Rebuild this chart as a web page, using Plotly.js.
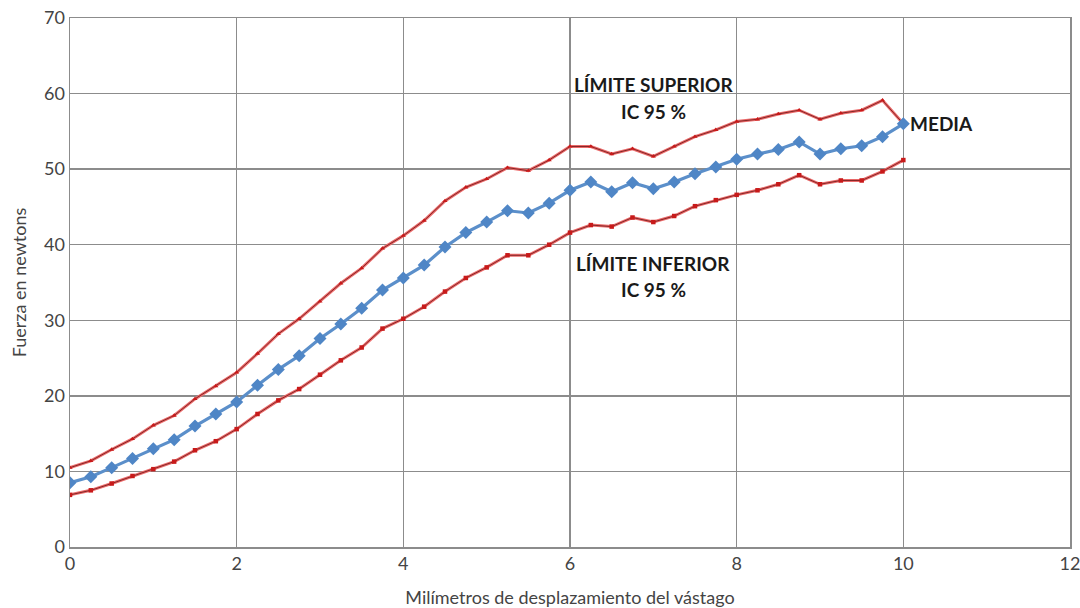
<!DOCTYPE html>
<html>
<head>
<meta charset="utf-8">
<script src="https://cdn.plot.ly/plotly-3.0.1.min.js"></script>
<style>html,body{margin:0;padding:0;background:#fff;}#chart{width:1080px;height:608px;}</style>
</head>
<body>
<div id="chart"></div>
<script>
const xValues = [0,0.25,0.5,0.75,1,1.25,1.5,1.75,2,2.25,2.5,2.75,3,3.25,3.5,3.75,4,4.25,4.5,4.75,5,5.25,5.5,5.75,6,6.25,6.5,6.75,7,7.25,7.5,7.75,8,8.25,8.5,8.75,9,9.25,9.5,9.75,10];
const mediaValues = [8.5,9.3,10.5,11.7,13.0,14.2,16.0,17.6,19.2,21.4,23.5,25.3,27.6,29.5,31.6,34.0,35.6,37.3,39.7,41.6,43.0,44.5,44.2,45.5,47.2,48.3,47.0,48.2,47.4,48.3,49.4,50.3,51.3,52.0,52.6,53.6,52.0,52.7,53.1,54.3,56.0];
const superiorValues = [10.5,11.4,12.9,14.3,16.1,17.4,19.6,21.3,23.1,25.6,28.2,30.2,32.5,34.9,36.9,39.5,41.2,43.2,45.8,47.6,48.7,50.2,49.8,51.2,53.0,53.0,52.0,52.7,51.7,53.0,54.3,55.2,56.3,56.6,57.3,57.8,56.6,57.4,57.8,59.1,56.0];
const inferiorValues = [6.9,7.5,8.4,9.4,10.3,11.3,12.8,14.0,15.6,17.6,19.4,20.9,22.8,24.7,26.4,28.9,30.2,31.8,33.8,35.6,37.0,38.6,38.6,40.0,41.6,42.6,42.4,43.6,43.0,43.8,45.1,45.9,46.6,47.2,48.0,49.2,48.0,48.5,48.5,49.7,51.2];
const xTicks = [0,2,4,6,8,10,12];
const yTicks = [0,10,20,30,40,50,60,70];
const labels = {
  superior: ['LÍMITE SUPERIOR','IC 95 %'],
  inferior: ['LÍMITE INFERIOR','IC 95 %'],
  media: 'MEDIA',
  xTitle: 'Milímetros de desplazamiento del vástago',
  yTitle: 'Fuerza en newtons'
};

function band(y, symbol) {
  return [
    {x: xValues, y: y, mode: 'lines', line: {color: '#ec6a6a', width: 3}, hoverinfo: 'skip', showlegend: false},
    {x: xValues, y: y, mode: 'lines+markers', line: {color: '#6a1414', width: 0.8},
     marker: {symbol: symbol, size: 4.5, color: '#c81a1a'}, showlegend: false}
  ];
}

const traces = [
  ...band(superiorValues, 'triangle-up'),
  ...band(inferiorValues, 'square'),
  {x: xValues, y: mediaValues, mode: 'lines+markers', line: {color: '#5b8fca', width: 3.2},
   marker: {symbol: 'diamond', size: 10, color: '#4f86c6'}, showlegend: false}
];

const annFont = {family: 'Lato, "Open Sans", sans-serif', size: 19, color: '#1a1a1a', weight: 'bold'};
const annotations = [
  {x: 7, y: 61.2, xref: 'x', yref: 'y', text: '<b>' + labels.superior[0] + '</b>', showarrow: false, font: annFont},
  {x: 7, y: 57.6, xref: 'x', yref: 'y', text: '<b>' + labels.superior[1] + '</b>', showarrow: false, font: annFont},
  {x: 7, y: 37.5, xref: 'x', yref: 'y', text: '<b>' + labels.inferior[0] + '</b>', showarrow: false, font: annFont},
  {x: 7, y: 34.1, xref: 'x', yref: 'y', text: '<b>' + labels.inferior[1] + '</b>', showarrow: false, font: annFont},
  {x: 10.06, y: 56.0, xref: 'x', yref: 'y', xanchor: 'left', text: '<b>' + labels.media + '</b>', showarrow: false, font: annFont}
];

const tickFont = {family: 'Lato, "Open Sans", sans-serif', size: 18, color: '#444'};
const titleFont = {family: 'Lato, "Open Sans", sans-serif', size: 18, color: '#444'};
const layout = {
  width: 1080, height: 608,
  margin: {l: 70, r: 10, t: 18, b: 61},
  paper_bgcolor: '#fff', plot_bgcolor: '#fff',
  xaxis: {range: [0, 12], tickvals: xTicks, ticktext: xTicks.map(String), showgrid: true, gridcolor: '#8c8c8c', gridwidth: 1.5,
          showline: true, linecolor: '#8c8c8c', linewidth: 1.5, mirror: true, zeroline: false, ticks: '', tickfont: tickFont,
          ticklabeloverflow: 'allow', automargin: false,
          title: {text: labels.xTitle, font: titleFont, standoff: 18}},
  yaxis: {range: [0, 70], tickvals: yTicks, ticktext: yTicks.map(String), showgrid: true, gridcolor: '#8c8c8c', gridwidth: 1.5,
          showline: true, linecolor: '#8c8c8c', linewidth: 1.5, mirror: true, zeroline: false, ticks: '', tickfont: tickFont,
          automargin: false,
          title: {text: labels.yTitle, font: titleFont, standoff: 12}},
  annotations: annotations
};

Plotly.newPlot('chart', traces, layout, {displayModeBar: false, staticPlot: true});
</script>
</body>
</html>
